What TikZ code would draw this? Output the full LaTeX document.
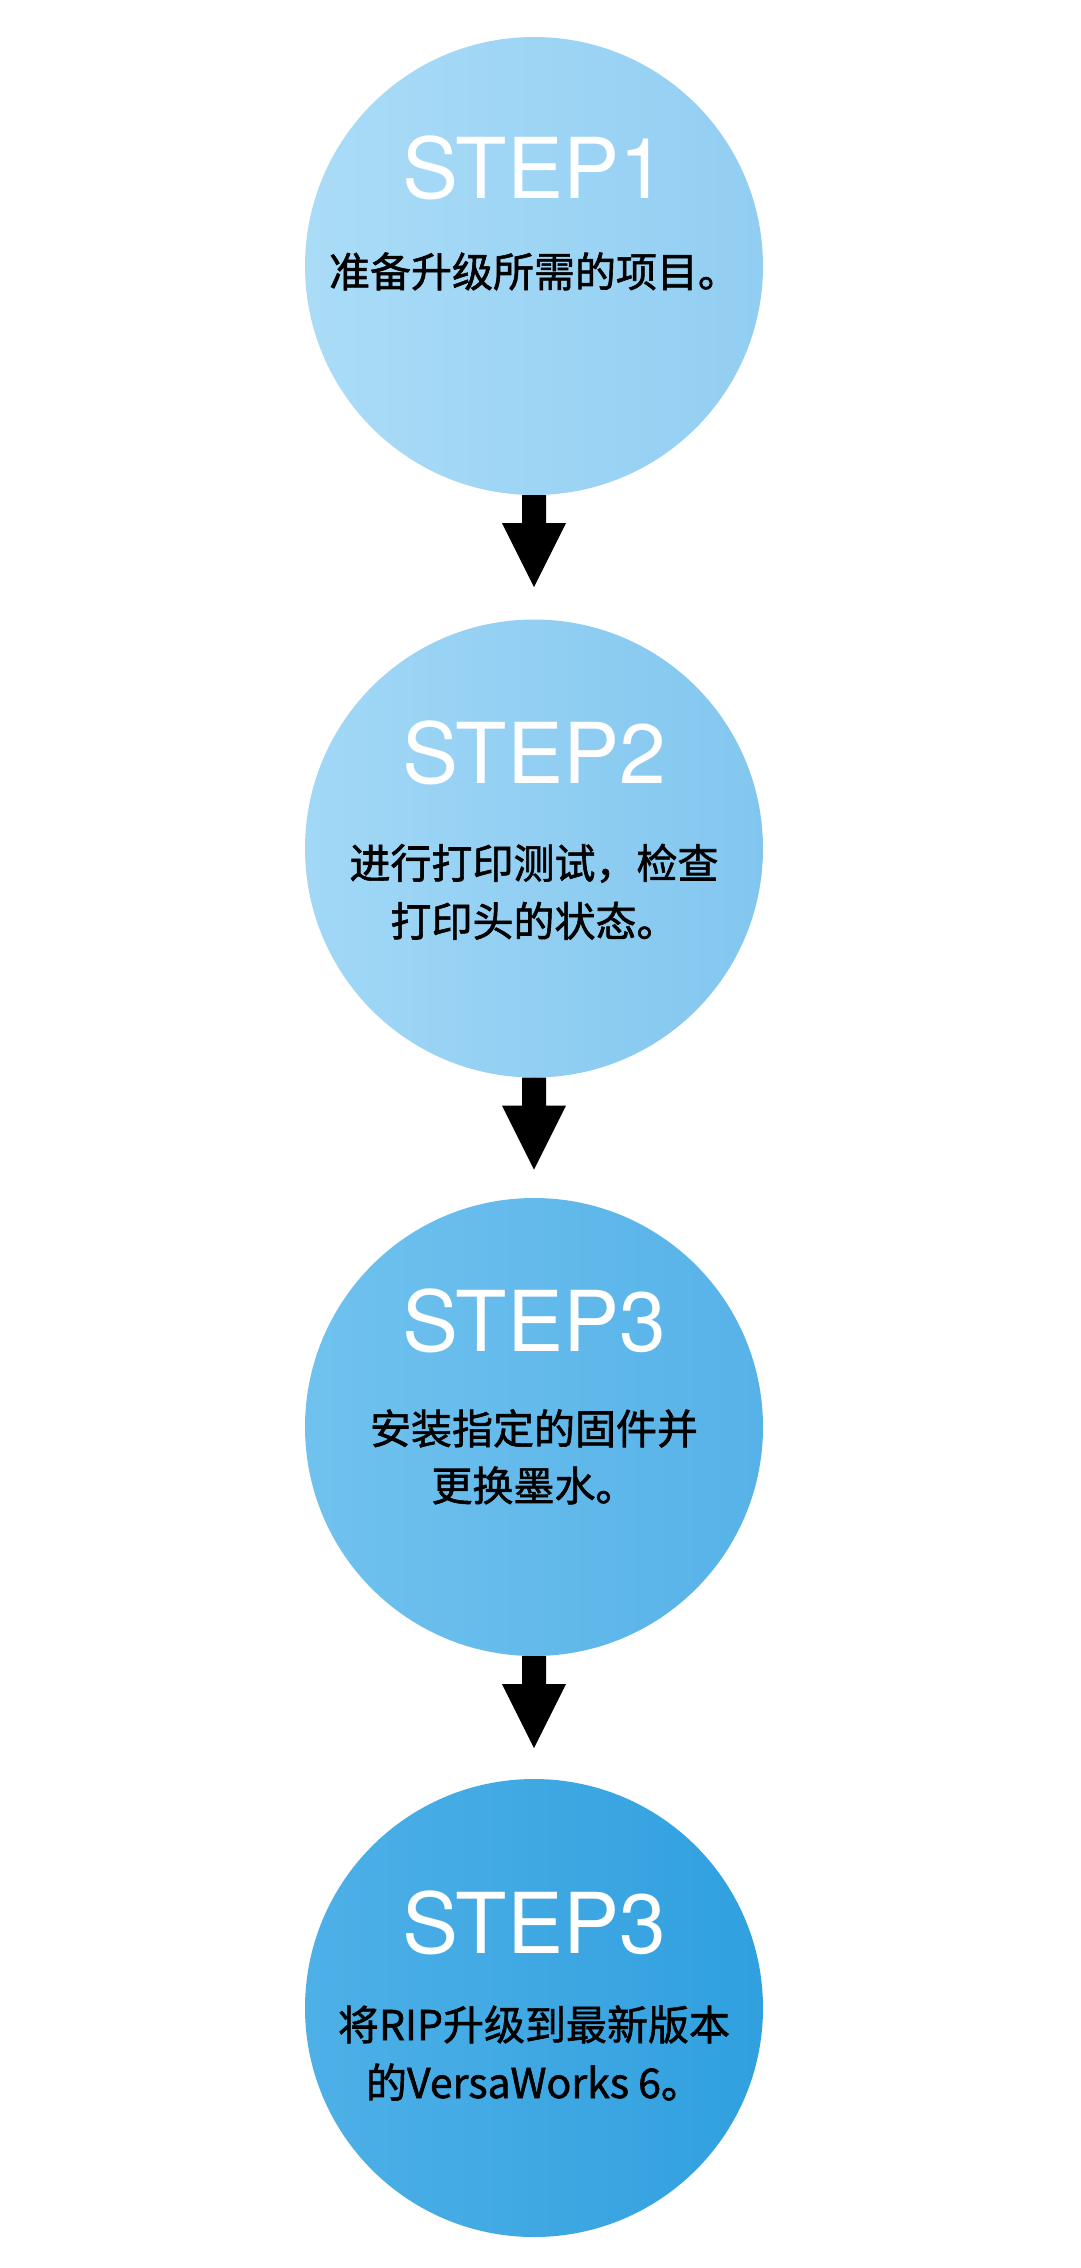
\documentclass[tikz,border=0pt]{standalone}
\usepackage{fontspec}
\setmainfont{TeX Gyre Heros}
\newfontfamily\cjk{Noto Sans CJK SC}[FakeBold=1.4]
\usetikzlibrary{calc}
\definecolor{cAl}{HTML}{AADCF7}
\definecolor{cAr}{HTML}{92CEF2}
\definecolor{cBl}{HTML}{A2D8F6}
\definecolor{cBr}{HTML}{82C6EF}
\definecolor{cCl}{HTML}{70C2EE}
\definecolor{cCr}{HTML}{56B2E8}
\definecolor{cDl}{HTML}{4EB0E7}
\definecolor{cDr}{HTML}{30A0DF}
\tikzset{
  stepcircle/.style={circle, minimum size=458pt, inner sep=0pt, draw=none},
  steptitle/.style={anchor=base, text=white, inner sep=0pt,
    font=\fontsize{84}{84}\selectfont},
  stepdesc/.style={anchor=base, text=black, inner sep=0pt,
    font=\cjk\fontsize{41}{41}\selectfont},
  blockarrow/.style={fill=black},
}
\begin{document}
\begin{tikzpicture}[x=1pt,y=1pt]
\fill[white] (0,0) rectangle (1080,-2268);
\useasboundingbox (0,0) rectangle (1080,-2268);
% circles
\node[stepcircle, left color=cAl, right color=cAr] (c1) at (534,-266) {};
\node[stepcircle, left color=cBl, right color=cBr] (c2) at (534,-848.5) {};
\node[stepcircle, left color=cCl, right color=cCr] (c3) at (534,-1427) {};
\node[stepcircle, left color=cDl, right color=cDr] (c4) at (534,-2008) {};
% texts
\node[steptitle] (t1) at ($(c1.center)+(0,68)$) {STEP1};
\node[stepdesc] (d1) at ($(c1.center)+(0,-21)$) {准备升级所需的项目。};
\node[steptitle] (t2) at ($(c2.center)+(0,65)$) {STEP2};
\node[stepdesc] (d2a) at ($(c2.center)+(0,-30)$) {进行打印测试，检查};
\node[stepdesc] (d2b) at ($(c2.center)+(0,-88)$) {打印头的状态。};
\node[steptitle] (t3) at ($(c3.center)+(0,76)$) {STEP3};
\node[stepdesc] (d3a) at ($(c3.center)+(0,-17)$) {安装指定的固件并};
\node[stepdesc] (d3b) at ($(c3.center)+(0,-74)$) {更换墨水。};
\node[steptitle] (t4) at ($(c4.center)+(0,55)$) {STEP3};
\node[stepdesc] (d4a) at ($(c4.center)+(0,-32)$) {将RIP升级到最新版本};
\node[stepdesc] (d4b) at ($(c4.center)+(0,-90)$) {的VersaWorks 6。};
% block arrows
\foreach \a in {c1,c2,c3}{
  \fill[blockarrow] (\a.south) ++(-12,0) -- ++(0,-28) -- ++(-20,0)
    -- ++(32,-64) -- ++(32,64) -- ++(-20,0) -- ++(0,28) -- cycle;
}
\end{tikzpicture}
\end{document}
